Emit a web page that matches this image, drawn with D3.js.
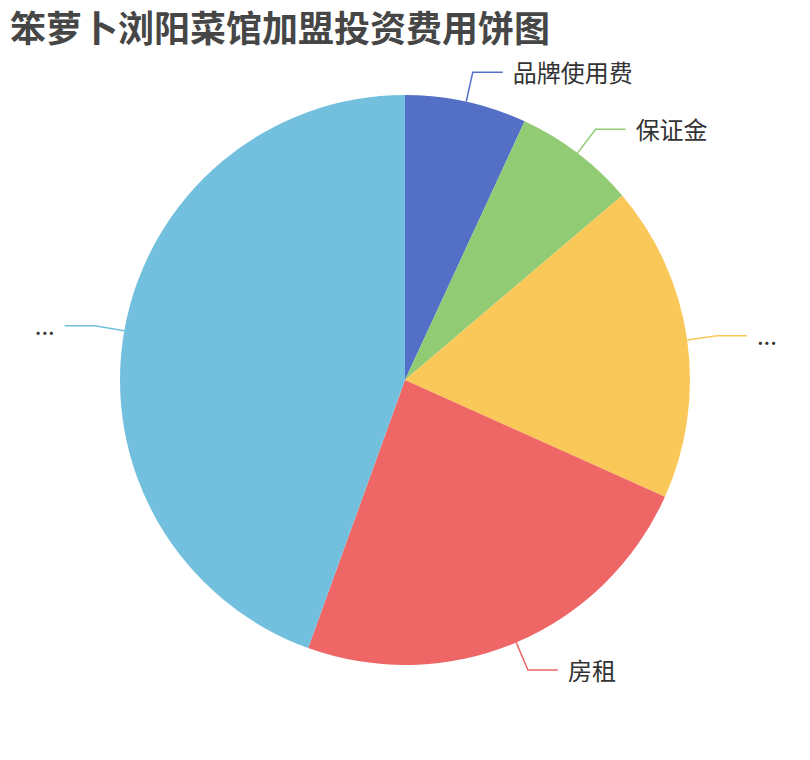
<!DOCTYPE html>
<html>
<head>
<meta charset="utf-8">
<script src="https://cdn.jsdelivr.net/npm/d3@7/dist/d3.min.js"></script>
<style>
  html, body { margin: 0; padding: 0; background: #fff; }
  svg { display: block; }
</style>
</head>
<body>
<div id="chart"></div>
<script>
const titleText = "笨萝卜浏阳菜馆加盟投资费用饼图";
const categories = ["品牌使用费", "保证金", "...", "房租", "..."];
const values = [2, 2, 5.2, 6.9, 12.9];
const colors = ["#5470c6", "#91cc75", "#fac858", "#ee6666", "#73c0de"];

const W = 810, H = 760;
const cx = 405, cy = 380, R = 285;
const len1 = 30, len2 = 30, gap = 10;
const font = "'Noto Sans CJK SC', 'Noto Sans', sans-serif";

const svg = d3.select("#chart").append("svg")
  .attr("width", W).attr("height", H);

svg.append("text")
  .attr("x", 10).attr("y", 26)
  .attr("dominant-baseline", "central")
  .attr("font-family", font)
  .attr("font-weight", "bold")
  .attr("font-size", 36)
  .attr("fill", "#464646")
  .text(titleText);

const data = categories.map((c, i) => ({ name: c, value: values[i], color: colors[i] }));
const pie = d3.pie().sort(null).value(d => d.value);
const arcs = pie(data);
const arc = d3.arc().innerRadius(0).outerRadius(R);

const g = svg.append("g").attr("transform", `translate(${cx},${cy})`);

g.selectAll("path.slice").data(arcs).enter().append("path")
  .attr("class", "slice")
  .attr("d", arc)
  .attr("fill", d => d.data.color);

arcs.forEach(d => {
  const a = (d.startAngle + d.endAngle) / 2;
  const s = Math.sin(a), c = -Math.cos(a);
  const p0 = [R * s, R * c];
  const p1 = [(R + len1) * s, (R + len1) * c];
  const right = s >= 0;
  const p2 = [p1[0] + (right ? len2 : -len2), p1[1]];
  g.append("path")
    .attr("d", d3.line()([p0, p1, p2]))
    .attr("fill", "none")
    .attr("stroke", d.data.color)
    .attr("stroke-width", 1.5);
  g.append("text")
    .attr("x", p2[0] + (right ? gap : -gap))
    .attr("y", p2[1] - 1)
    .attr("dominant-baseline", "central")
    .attr("text-anchor", right ? "start" : "end")
    .attr("font-family", font)
    .attr("font-size", 24)
    .attr("fill", "#333")
    .text(d.data.name);
});
</script>
</body>
</html>
